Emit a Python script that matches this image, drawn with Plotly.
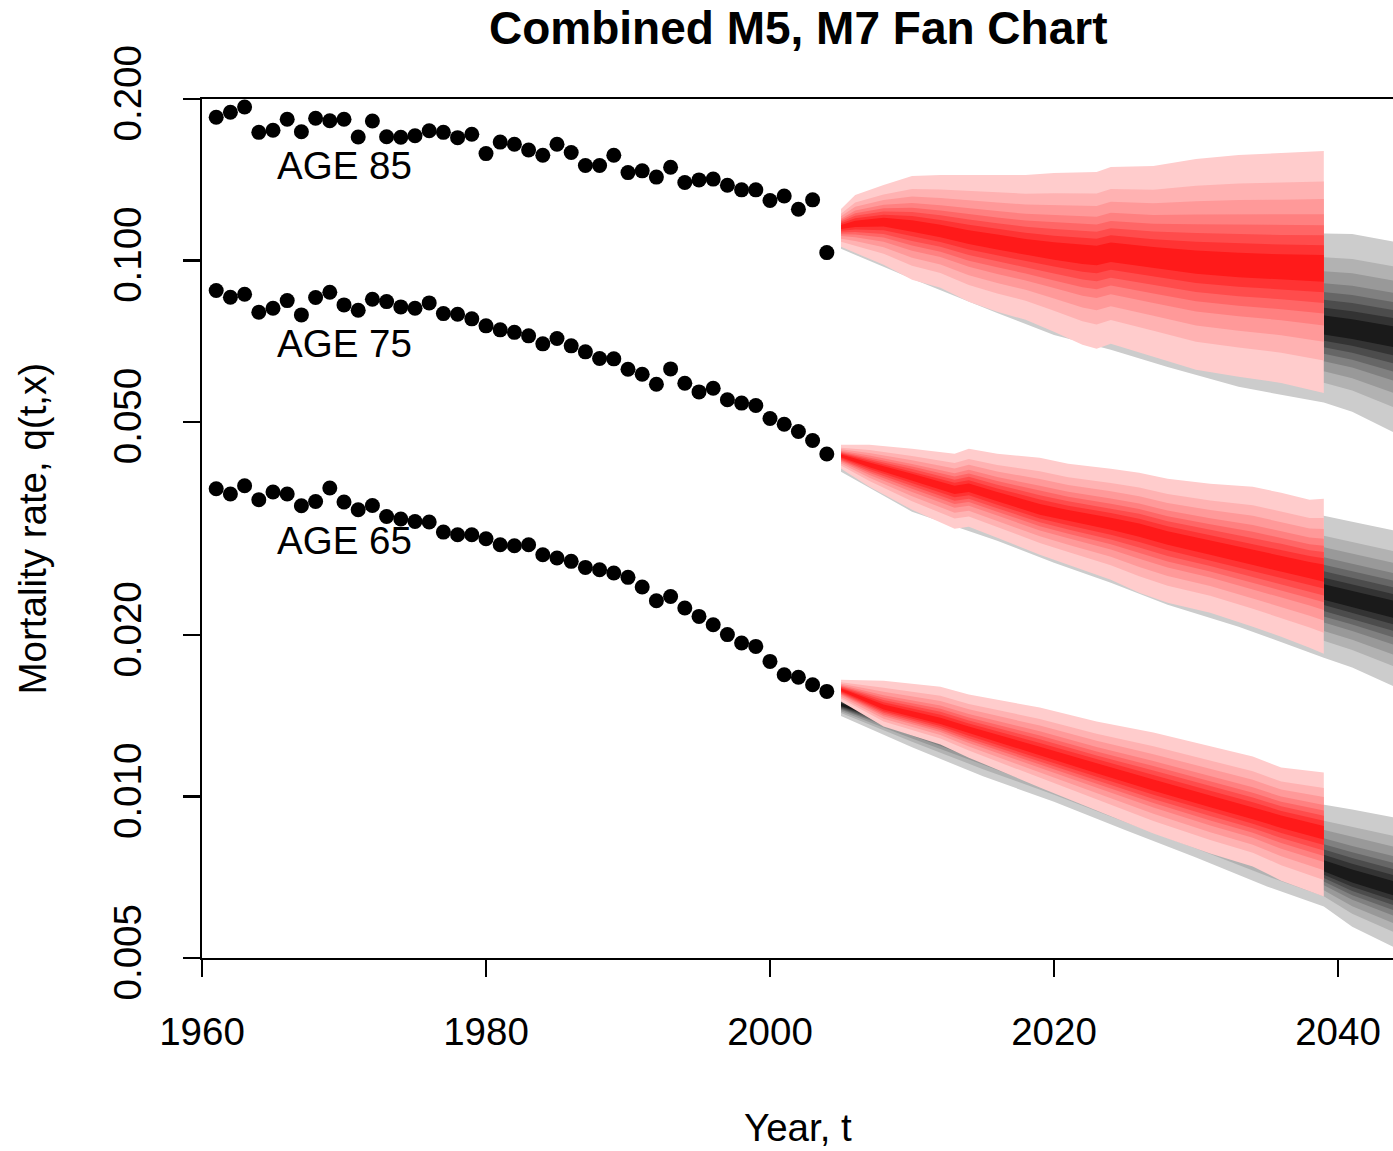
import numpy as np
import plotly.graph_objects as go

# ---------------- observed data (1961-2004) ----------------
years_obs = list(range(1961, 2005))
q85_obs = [0.1849, 0.1889, 0.1933, 0.1733, 0.1749, 0.1833, 0.1738, 0.1841, 0.1822, 0.1833,
           0.1699, 0.1820, 0.1701, 0.1697, 0.1708, 0.1745, 0.1733, 0.1694, 0.1719, 0.1582,
           0.1662, 0.1647, 0.1607, 0.1571, 0.1647, 0.1589, 0.1503, 0.1503, 0.1571, 0.1458,
           0.1469, 0.1430, 0.1492, 0.1397, 0.1413, 0.1418, 0.1381, 0.1354, 0.1354, 0.1293,
           0.1319, 0.1246, 0.1297, 0.1034]
q75_obs = [0.08785, 0.08539, 0.08650, 0.08006, 0.08145, 0.08414, 0.07914, 0.08525, 0.08724, 0.08261,
           0.08075, 0.08465, 0.08379, 0.08190, 0.08145, 0.08332, 0.07958, 0.07938, 0.07780, 0.07550,
           0.07421, 0.07342, 0.07233, 0.06988, 0.07150, 0.06928, 0.06752, 0.06561, 0.06552, 0.06267,
           0.06134, 0.05876, 0.06275, 0.05901, 0.05685, 0.05776, 0.05496, 0.05418, 0.05362, 0.05071,
           0.04949, 0.04795, 0.04614, 0.04354]
q65_obs = [0.03751, 0.03667, 0.03800, 0.03577, 0.03698, 0.03667, 0.03487, 0.03552, 0.03762, 0.03543,
           0.03427, 0.03491, 0.03330, 0.03293, 0.03259, 0.03251, 0.03114, 0.03078, 0.03078, 0.03026,
           0.02949, 0.02936, 0.02949, 0.02825, 0.02786, 0.02746, 0.02676, 0.02649, 0.02612, 0.02564,
           0.02460, 0.02319, 0.02362, 0.02248, 0.02168, 0.02092, 0.02005, 0.01934, 0.01906, 0.01787,
           0.01688, 0.01669, 0.01617, 0.01571]

# ---------------- M7 fan (red): median and outer quantiles ----------------
m7_85_years = [2005, 2006, 2008, 2010, 2012, 2014, 2016, 2018, 2020, 2022, 2023, 2024, 2027, 2030, 2033, 2036, 2039]
m7_85_upper = [0.1247, 0.1325, 0.1383, 0.1437, 0.1443, 0.1443, 0.1443, 0.1443, 0.1456, 0.1462, 0.1462, 0.1494, 0.1500, 0.1546, 0.1573, 0.1586, 0.1600]
m7_85_median = [0.1155, 0.1170, 0.1180, 0.1160, 0.1135, 0.1106, 0.1083, 0.1060, 0.1042, 0.1028, 0.1024, 0.1037, 0.1015, 0.0994, 0.0981, 0.0973, 0.0968]
m7_85_lower = [0.1060, 0.1033, 0.0981, 0.0920, 0.0889, 0.0837, 0.0802, 0.0775, 0.0736, 0.0696, 0.0684, 0.0699, 0.0661, 0.0625, 0.0607, 0.0591, 0.0566]

m7_75_years = [2005, 2007, 2010, 2013, 2014, 2016, 2019, 2021, 2024, 2026, 2028, 2031, 2034, 2036, 2038, 2039]
m7_75_upper = [0.04530, 0.04530, 0.04453, 0.04359, 0.04453, 0.04359, 0.04285, 0.04175, 0.04087, 0.04017, 0.03915, 0.03832, 0.03783, 0.03687, 0.03578, 0.03593]
m7_75_median = [0.04322, 0.04158, 0.03948, 0.03735, 0.03767, 0.03624, 0.03428, 0.03340, 0.03228, 0.03145, 0.03040, 0.02912, 0.02791, 0.02718, 0.02649, 0.02615]
m7_75_lower = [0.04087, 0.03783, 0.03428, 0.03159, 0.03186, 0.03040, 0.02826, 0.02707, 0.02538, 0.02400, 0.02299, 0.02203, 0.02074, 0.01987, 0.01895, 0.01847]

m7_65_years = [2005, 2008, 2012, 2014, 2019, 2023, 2027, 2031, 2034, 2036, 2039]
m7_65_upper = [0.01652, 0.01645, 0.01603, 0.01550, 0.01466, 0.01380, 0.01317, 0.01240, 0.01188, 0.01133, 0.01109]
m7_65_median = [0.01583, 0.01466, 0.01380, 0.01328, 0.01213, 0.01128, 0.01049, 0.00979, 0.00930, 0.00899, 0.00857]
m7_65_lower = [0.01504, 0.01351, 0.01251, 0.01182, 0.01040, 0.00942, 0.00853, 0.00783, 0.00741, 0.00697, 0.00651]

# ---------------- M5 fan (grey): median and outer quantiles ----------------
m5_85_years = [2005, 2010, 2016, 2020, 2024, 2028, 2033, 2039, 2041, 2044]
m5_85_upper = [0.1211, 0.1180, 0.1155, 0.1145, 0.1140, 0.1135, 0.1130, 0.1125, 0.1120, 0.1083]
m5_85_median = [0.1130, 0.1055, 0.0977, 0.0928, 0.0889, 0.0844, 0.0798, 0.0755, 0.0742, 0.0720]
m5_85_lower = [0.1051, 0.0924, 0.0798, 0.0726, 0.0681, 0.0633, 0.0581, 0.0543, 0.0522, 0.0477]

m5_75_years = [2005, 2010, 2016, 2020, 2024, 2028, 2033, 2039, 2041, 2044]
m5_75_upper = [0.04434, 0.04248, 0.03982, 0.03816, 0.03672, 0.03547, 0.03428, 0.03340, 0.03255, 0.03132]
m5_75_median = [0.04248, 0.03865, 0.03502, 0.03269, 0.03052, 0.02862, 0.02638, 0.02400, 0.02329, 0.02231]
m5_75_lower = [0.04034, 0.03399, 0.03001, 0.02729, 0.02506, 0.02280, 0.02074, 0.01816, 0.01740, 0.01603]

m5_65_years = [2005, 2010, 2015, 2020, 2025, 2030, 2035, 2039, 2041, 2044]
m5_65_upper = [0.01551, 0.01470, 0.01361, 0.01251, 0.01146, 0.01064, 0.01007, 0.00966, 0.00946, 0.00914]
m5_65_median = [0.01484, 0.01356, 0.01227, 0.01100, 0.00989, 0.00891, 0.00806, 0.00739, 0.00708, 0.00671]
m5_65_lower = [0.01414, 0.01236, 0.01091, 0.00978, 0.00866, 0.00770, 0.00680, 0.00624, 0.00572, 0.00523]

# fan band edges as share of the outer spread (outer -> inner), and shade levels
band_share = [1.0, 0.74, 0.59, 0.46, 0.365, 0.28, 0.195, 0.11]
band_shade = [0.8, 0.7, 0.6, 0.5, 0.4, 0.3, 0.2, 0.1]

age_labels = ["AGE 85", "AGE 75", "AGE 65"]
label_year = [1970, 1970, 1970]
label_q = [0.15, 0.07, 0.03]

y_tickvals = [0.005, 0.010, 0.020, 0.050, 0.100, 0.200]
y_ticktext = ["0.005", "0.010", "0.020", "0.050", "0.100", "0.200"]
x_tickvals = [1960, 1980, 2000, 2020, 2040]

FONT = "Liberation Sans, Arial, Helvetica, sans-serif"
BASE = 38.5

fig = go.Figure()


def add_fan(years, upper, median, lower, kind):
    yrs = np.array(years, dtype=float)
    lm = np.log10(median)
    lu = np.log10(upper)
    ll = np.log10(lower)
    for share, shade in zip(band_share, band_shade):
        up = 10 ** (lm + share * (lu - lm))
        lo = 10 ** (lm + share * (ll - lm))
        v = int(round(255 * shade))
        col = f"rgb(255,{v},{v})" if kind == "red" else f"rgb({v},{v},{v})"
        fig.add_trace(go.Scatter(
            x=np.concatenate([yrs, yrs[::-1]]),
            y=np.concatenate([up, lo[::-1]]),
            mode="lines", fill="toself", fillcolor=col,
            line=dict(width=0, color=col), hoverinfo="skip", showlegend=False))


add_fan(m5_85_years, m5_85_upper, m5_85_median, m5_85_lower, "grey")
add_fan(m5_75_years, m5_75_upper, m5_75_median, m5_75_lower, "grey")
add_fan(m5_65_years, m5_65_upper, m5_65_median, m5_65_lower, "grey")
add_fan(m7_85_years, m7_85_upper, m7_85_median, m7_85_lower, "red")
add_fan(m7_75_years, m7_75_upper, m7_75_median, m7_75_lower, "red")
add_fan(m7_65_years, m7_65_upper, m7_65_median, m7_65_lower, "red")

for q in (q85_obs, q75_obs, q65_obs):
    fig.add_trace(go.Scatter(x=years_obs, y=q, mode="markers",
                             marker=dict(size=15, color="black"),
                             showlegend=False, cliponaxis=False))

annotations = []
for txt, xv, yv in zip(age_labels, label_year, label_q):
    annotations.append(dict(x=xv, y=np.log10(yv), xref="x", yref="y", text=txt,
                            showarrow=False, xanchor="center", yanchor="middle",
                            font=dict(family=FONT, size=BASE, color="black")))

annotations.append(dict(x=0.5, y=1.0827, xref="paper", yref="paper",
                        text="Combined M5, M7 Fan Chart", showarrow=False,
                        xanchor="center", yanchor="middle",
                        font=dict(family=FONT, size=46, color="black", weight="bold")))
annotations.append(dict(x=0.5, y=-0.1979, xref="paper", yref="paper",
                        text="Year, t", showarrow=False,
                        xanchor="center", yanchor="middle",
                        font=dict(family=FONT, size=BASE, color="black")))
annotations.append(dict(x=-0.1419, y=0.5, xref="paper", yref="paper",
                        text="Mortality rate, q(t,x)", showarrow=False, textangle=-90,
                        xanchor="center", yanchor="middle",
                        font=dict(family=FONT, size=BASE, color="black")))

fig.update_layout(
    width=1393, height=1151,
    margin=dict(l=202, r=0, t=99, b=193, pad=0),
    paper_bgcolor="white", plot_bgcolor="white",
    font=dict(family=FONT, size=BASE, color="black"),
    annotations=annotations,
    showlegend=False,
)
fig.update_xaxes(
    range=[1960, 1960 + 1191 / 14.2],
    tickvals=x_tickvals, ticks="outside", ticklen=17, tickwidth=2.2, tickcolor="black",
    showline=True, linewidth=2.2, linecolor="black", mirror=True,
    showgrid=False, zeroline=False, ticklabelstandoff=22,
    tickfont=dict(family=FONT, size=BASE, color="black"),
)
fig.update_yaxes(
    type="log", range=[np.log10(0.005), np.log10(0.2)],
    tickvals=y_tickvals, ticktext=y_ticktext, tickangle=-90,
    ticks="outside", ticklen=17, tickwidth=2.2, tickcolor="black",
    showline=True, linewidth=2.2, linecolor="black", mirror=False,
    showgrid=False, zeroline=False, ticklabelstandoff=26,
    tickfont=dict(family=FONT, size=BASE, color="black"),
)

fig.write_html("out.html",
               config={"displayModeBar": False, "staticPlot": True},
               post_script="document.body.style.margin='0px';document.body.style.overflow='hidden';")
